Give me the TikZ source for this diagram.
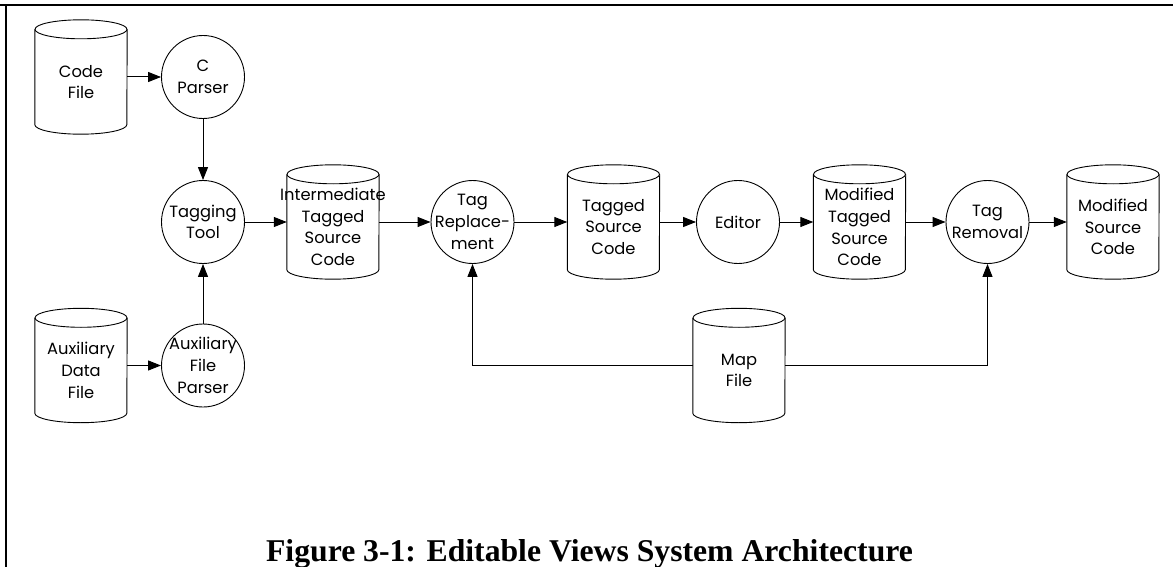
\documentclass[tikz,border=0pt]{standalone}
\usepackage{fontspec}
\setmainfont{Poppins}
\newfontfamily\capfont{Liberation Serif}
\usetikzlibrary{arrows.meta,calc}

\tikzset{
  shapeline/.style={draw=black, line width=0.9pt},
  cylbody/.style={rectangle, minimum width=92pt, minimum height=114pt, inner sep=0pt},
  procnode/.style={circle, shapeline, minimum size=83pt, inner sep=0pt},
  lbl/.style={align=center, inner sep=0pt, font=\fontsize{16.3}{21.7}\selectfont},
  flow/.style={draw=black, line width=1pt, -{Triangle[length=13pt,width=10pt]}},
  framebar/.style={draw=black, line width=2.6pt}
}

\newcommand\drawcyl[1]{%
  \draw[shapeline] ($(#1.north west)+(0,9.5)$) -- ($(#1.south west)+(0,-9.5)$)
     arc[start angle=180,end angle=360,x radius=46pt,y radius=9.5pt]
     -- ($(#1.north east)+(0,9.5)$);
  \draw[shapeline] ($(#1.north)+(0,9.5)$) ellipse [x radius=46pt, y radius=9.5pt];
}

\begin{document}
\begin{tikzpicture}[x=1pt,y=-1pt]
\useasboundingbox (0,0) rectangle (1173,567);

% frame
\draw[framebar] (0,5) -- (1173,5);
\draw[framebar] (6,5) -- (6,567);

% data stores (cylinders)
\node[cylbody] (code)      at (81,77)    {};
\node[cylbody] (aux)       at (81,365.5) {};
\node[cylbody] (inter)     at (333,222)  {};
\node[cylbody] (tagged)    at (613.5,222) {};
\node[cylbody] (modtagged) at (859.5,222) {};
\node[cylbody] (modsrc)    at (1113,222) {};
\node[cylbody] (map)       at (739,365.5) {};
\foreach \n in {code,aux,inter,tagged,modtagged,modsrc,map} {\drawcyl{\n}}

\node[lbl] (codeT)      at ($(code)+(0,5)$)      {Code\\File};
\node[lbl] (auxT)       at ($(aux)+(0,5)$)       {Auxiliary\\Data\\File};
\node[lbl] (interT)     at ($(inter)+(0,5)$)     {Intermediate\\Tagged\\Source\\Code};
\node[lbl] (taggedT)    at ($(tagged)+(0,5)$)    {Tagged\\Source\\Code};
\node[lbl] (modtaggedT) at ($(modtagged)+(0,5)$) {Modified\\Tagged\\Source\\Code};
\node[lbl] (modsrcT)    at ($(modsrc)+(0,5)$)    {Modified\\Source\\Code};
\node[lbl] (mapT)       at ($(map)+(0,5)$)       {Map\\File};

% processes (circles)
\node[procnode] (cparser)   at (203,77)    {};
\node[procnode] (tagging)   at (203,222)   {};
\node[procnode] (auxparser) at (203,365.5) {};
\node[procnode] (tagrep)    at (472.5,222) {};
\node[procnode] (editor)    at (738,222)   {};
\node[procnode] (tagrem)    at (987.5,222) {};

\node[lbl] (cparserT)   at (cparser)   {C\\Parser};
\node[lbl] (taggingT)   at (tagging)   {Tagging\\Tool};
\node[lbl] (auxparserT) at (auxparser) {Auxiliary\\File\\Parser};
\node[lbl] (tagrepT)    at (tagrep)    {Tag\\Replace-\\ment};
\node[lbl] (editorT)    at (editor)    {Editor};
\node[lbl] (tagremT)    at (tagrem)    {Tag\\Removal};

% connectors
\draw[flow] (code) -- (cparser);
\draw[flow] (aux) -- (auxparser);
\draw[flow] (cparser) -- (tagging);
\draw[flow] (auxparser) -- (tagging);
\draw[flow] (tagging) -- (inter);
\draw[flow] (inter) -- (tagrep);
\draw[flow] (tagrep) -- (tagged);
\draw[flow] (tagged) -- (editor);
\draw[flow] (editor) -- (modtagged);
\draw[flow] (modtagged) -- (tagrem);
\draw[flow] (tagrem) -- (modsrc);
\draw[flow] (map.west) -| (tagrep.south);
\draw[flow] (map.east) -| (tagrem.south);

% caption
\node[anchor=base, inner sep=0pt, font=\capfont\bfseries\fontsize{31.7}{36}\selectfont] (caption)
  at (589.5,561) {Figure 3-1: Editable Views System Architecture};
\end{tikzpicture}
\end{document}
